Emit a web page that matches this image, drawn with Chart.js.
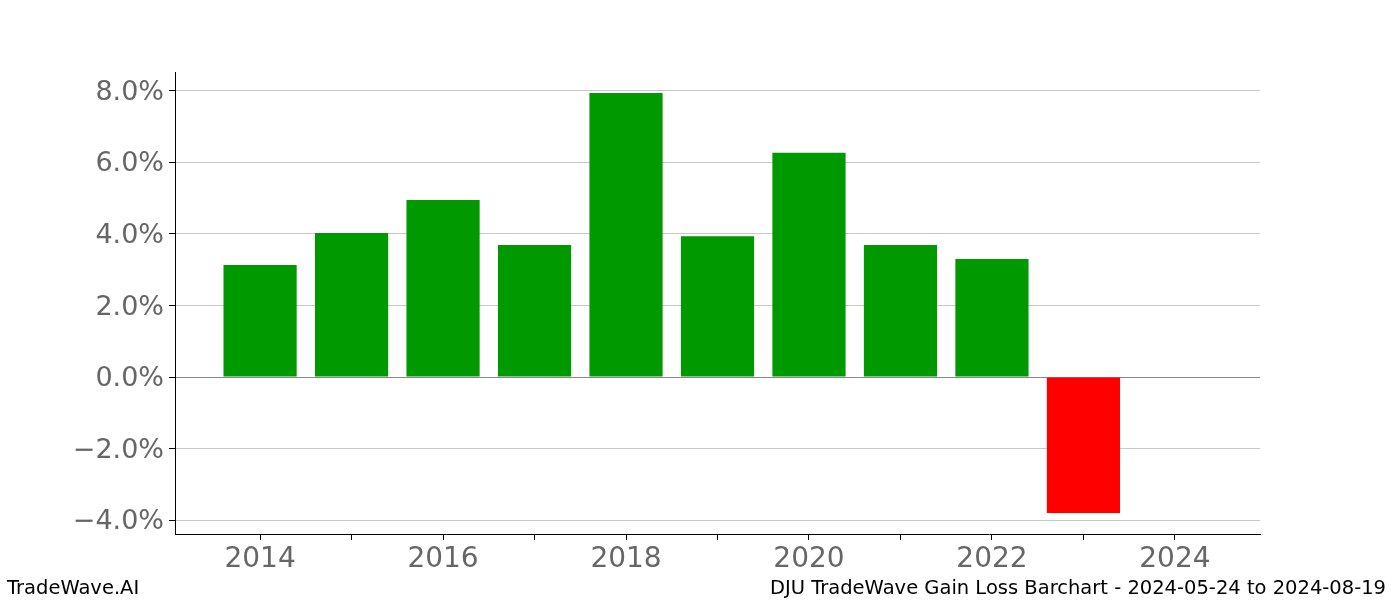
<!DOCTYPE html>
<html>
<head>
<meta charset="utf-8">
<script src="https://cdn.jsdelivr.net/npm/chart.js@4"></script>
<style>
html,body{margin:0;padding:0;background:#fff;}
#wrap{width:1400px;height:600px;position:relative;}
</style>
</head>
<body>
<div id="wrap"><canvas id="c" width="1400" height="600"></canvas></div>
<script>
const years = [2014, 2015, 2016, 2017, 2018, 2019, 2020, 2021, 2022, 2023];
const gains = [3.13, 4.03, 4.95, 3.69, 7.94, 3.94, 6.27, 3.69, 3.30, -3.80];
const xTicks = [2014, 2015, 2016, 2017, 2018, 2019, 2020, 2021, 2022, 2023, 2024];
const yTicks = [-4, -2, 0, 2, 4, 6, 8];
const footerLeft = 'TradeWave.AI';
const footerRight = 'DJU TradeWave Gain Loss Barchart - 2024-05-24 to 2024-08-19';

const FONT = "'DejaVu Sans', sans-serif";

const footerPlugin = {
  id: 'footer',
  afterDraw(chart) {
    const ctx = chart.ctx;
    ctx.save();
    ctx.fillStyle = '#000';
    ctx.font = '19.5px ' + FONT;
    ctx.textBaseline = 'alphabetic';
    ctx.textAlign = 'left';
    ctx.fillText(footerLeft, 7, 594);
    ctx.textAlign = 'right';
    ctx.fillText(footerRight, 1386, 594);
    ctx.restore();
  }
};

new Chart(document.getElementById('c'), {
  type: 'bar',
  data: {
    datasets: [{
      data: years.map((y, i) => ({x: y, y: gains[i]})),
      backgroundColor: gains.map(v => v >= 0 ? '#009900' : '#ff0000'),
      barPercentage: 0.8,
      categoryPercentage: 1.0,
      borderWidth: 0
    }]
  },
  options: {
    responsive: false,
    animation: false,
    events: [],
    layout: {padding: {top: 72, right: 140, left: 0, bottom: 0}},
    plugins: {legend: {display: false}, tooltip: {enabled: false}},
    scales: {
      x: {
        type: 'linear',
        offset: false,
        min: 2013.07,
        max: 2024.93,
        afterBuildTicks(axis) { axis.ticks = xTicks.map(v => ({value: v})); },
        afterFit(axis) { axis.height = 66; },
        ticks: {
          autoSkip: false,
          maxRotation: 0,
          padding: 3,
          color: '#666666',
          font: {family: FONT, size: 28},
          callback: (v) => (v % 2 === 0 ? String(v) : '')
        },
        grid: {offset: false, drawOnChartArea: false, drawTicks: true, tickLength: 6, tickColor: '#000', tickWidth: 1},
        border: {display: true, color: '#000', width: 1}
      },
      y: {
        type: 'linear',
        min: -4.39,
        max: 8.53,
        afterBuildTicks(axis) { axis.ticks = yTicks.map(v => ({value: v})); },
        afterFit(axis) { axis.width = 175; },
        ticks: {
          padding: 5,
          labelOffset: 2,
          color: '#666666',
          font: {family: FONT, size: 27},
          callback: (v) => (v < 0 ? '\u2212' : '') + Math.abs(v).toFixed(1) + '%'
        },
        grid: {
          drawTicks: true,
          tickLength: 6,
          tickColor: '#000',
          color: (c) => (c.tick && c.tick.value === 0 ? '#888888' : '#c8c8c8'),
          lineWidth: 1
        },
        border: {display: true, color: '#000', width: 1}
      }
    }
  },
  plugins: [footerPlugin]
});
</script>
</body>
</html>
